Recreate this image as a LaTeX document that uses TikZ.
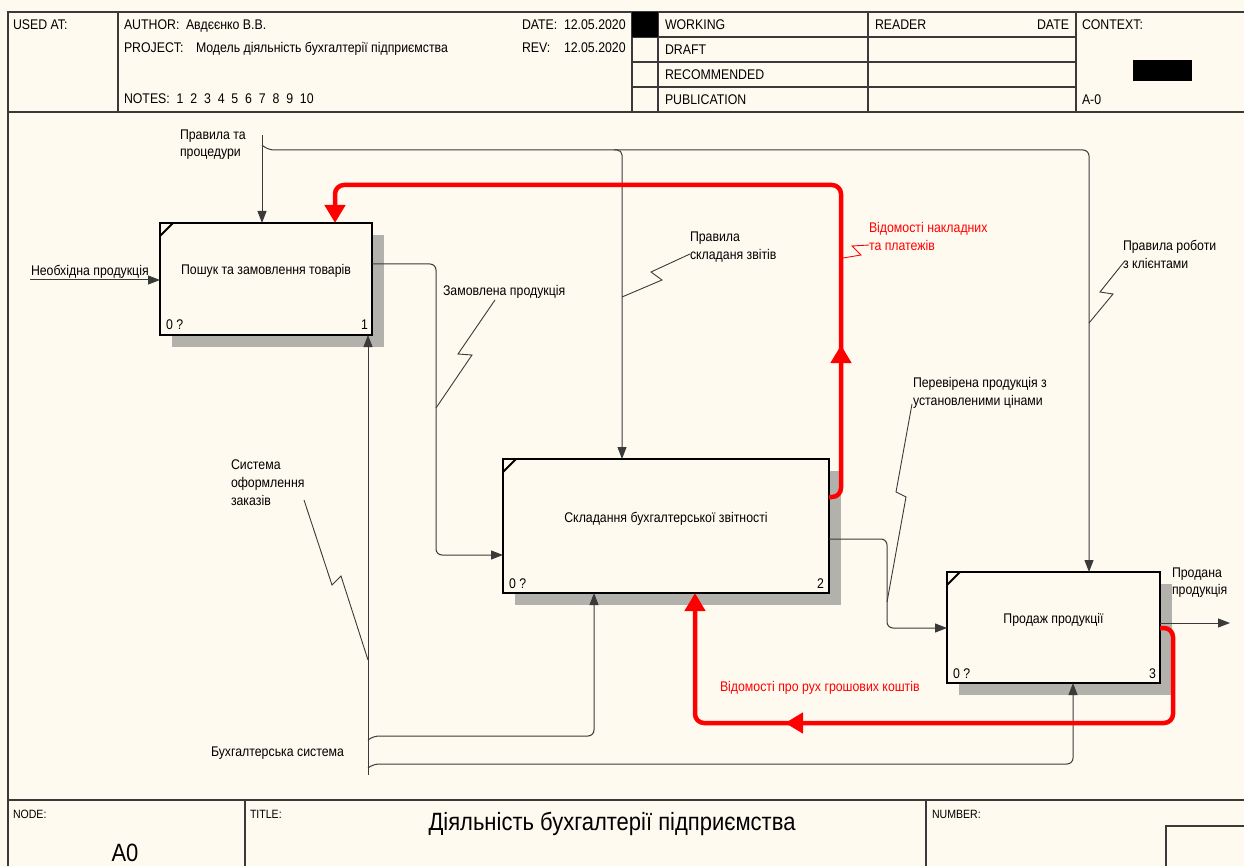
\documentclass[tikz,border=0pt]{standalone}
\usepackage{fontspec}
\setmainfont{Liberation Sans}[FakeStretch=0.88]
\usetikzlibrary{arrows.meta,calc}
\definecolor{bg}{HTML}{FFFAEF}
\definecolor{ln}{HTML}{3A3A3A}
\definecolor{shd}{HTML}{B2B1AC}
\definecolor{rd}{HTML}{FF0000}
\begin{document}
\begin{tikzpicture}[x=1pt,y=-1pt,
  t/.style={inner sep=0pt,outer sep=0pt,font=\fontsize{14}{17}\selectfont,anchor=base west},
  tr/.style={t,anchor=base east},
  tc/.style={t,anchor=base},
  sm/.style={t,font=\fontsize{12}{14}\selectfont},
  big/.style={tc,font=\fontsize{25}{29}\selectfont},
  redt/.style={t,text=rd},
  frame/.style={line width=1.4pt,draw=ln},
  box/.style={draw=black,line width=2.5pt,fill=bg,inner sep=0pt,outer sep=0pt,
    font=\fontsize{14}{17}\selectfont,text height=10pt,text depth=18pt,
    preaction={fill=shd,transform canvas={shift={(12pt,-12pt)}}}},
  corner/.style={draw=black,line width=2pt},
  conn/.style={draw=ln,line width=1pt},
  arr/.style={conn,-{Triangle[length=12pt,width=9pt]}},
  redline/.style={draw=rd,line width=4.5pt},
  redarr/.style={redline,-{Triangle[length=18pt,width=20pt]}},
  squig/.style={draw=ln,line width=0.9pt},
  redsquig/.style={draw=rd,line width=0.9pt}
]
\useasboundingbox (0,0) rectangle (1244,866);
\fill[bg] (0,0) rectangle (1244,866);
% ---- frame ----
\draw[frame] (8,870) -- (8,12) -- (1250,12);
\draw[frame] (8,112) -- (1250,112);
\draw[frame] (8,800) -- (1250,800);
\foreach \x in {118,632,658,868,1076} \draw[frame] (\x,12) -- (\x,112);
\foreach \y in {37,62,87} \draw[frame] (632,\y) -- (1076,\y);
\fill[black] (632,12) rectangle (658,37);
\fill[black] (1133,60) rectangle (1192,81);
\draw[frame] (245,800) -- (245,870);
\draw[frame] (926,800) -- (926,870);
\draw[frame] (1166,870) -- (1166,826) -- (1250,826);
% ---- header texts ----
\node[t] (usedat) at (13,30) {USED AT:};
\node[t] (author) at (124,30) {AUTHOR:};
\node[t] (authorv) at (186,30) {Авдєєнко В.В.};
\node[t] (project) at (124,53) {PROJECT:};
\node[t] (projectv) at (196,53) {Модель діяльність бухгалтерії підприємства};
\node[t] (notes) at (124,104) {NOTES:\ \ 1\ \ 2\ \ 3\ \ 4\ \ 5\ \ 6\ \ 7\ \ 8\ \ 9\ \ 10};
\node[t] (date) at (522,30) {DATE:};
\node[t] (datev) at (564,30) {12.05.2020};
\node[t] (rev) at (522,53) {REV:};
\node[t] (revv) at (564,53) {12.05.2020};
\node[t] (working) at (665,30) {WORKING};
\node[t] (draft) at (665,55) {DRAFT};
\node[t] (recom) at (665,80) {RECOMMENDED};
\node[t] (publ) at (665,105) {PUBLICATION};
\node[t] (reader) at (875,30) {READER};
\node[tr] (rdate) at (1069,30) {DATE};
\node[t] (context) at (1082,30) {CONTEXT:};
\node[t] (ctxa) at (1082,105) {A-0};
% ---- footer texts ----
\node[sm] (nodelbl) at (13,818) {NODE:};
\node[sm] (titlelbl) at (250,818) {TITLE:};
\node[sm] (numlbl) at (932,818) {NUMBER:};
\node[big] (nodeval) at (125,861) {A0};
\node[big] (titleval) at (612,830) {Діяльність бухгалтерії підприємства};
% ---- boxes ----
\node[box,minimum width=212pt,minimum height=112pt] (b1) at (266,279) {Пошук та замовлення товарів};
\node[box,minimum width=326pt,minimum height=134pt] (b2) at (666,526) {Складання бухгалтерської звітності};
\node[box,minimum width=213pt,minimum height=111pt] (b3) at (1053.5,627.5) {Продаж продукції};
\foreach \b in {b1,b2,b3}{
  \draw[corner] ($(\b.north west)+(0,13)$) -- ($(\b.north west)+(13,0)$);
}
\node[t] (b1q) at ($(b1.south west)+(6,-5)$) {0 ?};
\node[tr] (b1n) at ($(b1.south east)+(-4,-5)$) {1};
\node[t] (b2q) at ($(b2.south west)+(6,-5)$) {0 ?};
\node[tr] (b2n) at ($(b2.south east)+(-5,-5)$) {2};
\node[t] (b3q) at ($(b3.south west)+(6,-5)$) {0 ?};
\node[tr] (b3n) at ($(b3.south east)+(-4,-5)$) {3};
% ---- coordinates ----
\coordinate (inA) at (30,280);
\coordinate (ctlTop) at (262,135);
\coordinate (j1) at (262,145);
\coordinate (c2) at (622,150);
\coordinate (c3) at (1089,150);
\coordinate (z1) at (436,264);
\coordinate (z2) at (436,555);
\coordinate (p1) at (887,539);
\coordinate (p2) at (887,628);
\coordinate (o3) at (1230,623);
\coordinate (r1a) at (841,497);
\coordinate (r1c) at (841,185);
\coordinate (r1b) at (335,185);
\coordinate (r2a) at (1173,628);
\coordinate (r2b) at (1173,723);
\coordinate (r2c) at (695,723);
\coordinate (m0) at (368,775);
\coordinate (mj1) at (368,740);
\coordinate (m2) at (594,736);
\coordinate (mj2) at (368,768);
\coordinate (m3) at (1073,764);
% ---- black connectors ----
\draw[arr] (inA) -- (inA -| b1.west);
\draw[arr] (ctlTop) -- (ctlTop |- b1.north);
\draw[arr,rounded corners=6pt] (j1) -- ++(6,5) -| (c3 |- b3.north);
\draw[arr,rounded corners=5pt] ($(c2)+(-8,0)$) -| (c2 |- b2.north);
\draw[arr,rounded corners=6pt] (z1 -| b1.east) -- (z1) -- (z2) -- (z2 -| b2.west);
\draw[arr,rounded corners=6pt] (p1 -| b2.east) -- (p1) -- (p2) -- (p2 -| b3.west);
\draw[arr] (o3 -| b3.east) -- (o3);
\draw[arr] (m0) -- (m0 |- b1.south);
\draw[arr,rounded corners=6pt] (mj1) -- ++(5,-4) -| (m2 |- b2.south);
\draw[arr,rounded corners=6pt] (mj2) -- ++(5,-4) -| (m3 |- b3.south);
% ---- red connectors ----
\draw[redarr,rounded corners=9pt] (r1a -| b2.east) -- (r1a) -- (r1c) -- (r1b) -- (r1b |- b1.north);
\draw[redarr] (841,372) -- (841,345);
\draw[redarr,rounded corners=9pt] (r2a -| b3.east) -- (r2a) -- (r2b) -- (r2c) -- (r2c |- b2.south);
\draw[redarr] (815,723) -- (785,723);
% ---- labels ----
\node[t] (lpr1) at (180,140) {Правила та};
\node[t] (lpr2) at (180,157) {процедури};
\node[t] (lneo) at (31,276) {Необхідна продукція};
\node[t] (lzam) at (443,296) {Замовлена продукція};
\draw[squig] (436,408) -- (472,355) -- (458,354) -- (495,300);
\node[t] (lsk1) at (690,242) {Правила};
\node[t] (lsk2) at (690,260) {складаня звітів};
\draw[squig] (622,297) -- (662,280) -- (651,272) -- (690,254);
\node[redt] (lvn1) at (869,233) {Відомості накладних};
\node[redt] (lvn2) at (869,251) {та платежів};
\draw[redsquig] (843,258) -- (861,255) -- (852,246) -- (869,245);
\node[t] (lrk1) at (1123,251) {Правила роботи};
\node[t] (lrk2) at (1123,269) {з клієнтами};
\draw[squig] (1089,323) -- (1113,294) -- (1100,292) -- (1124,262);
\node[t] (lpp1) at (913,387) {Перевірена продукція з};
\node[t] (lpp2) at (913,405) {установленими цінами};
\draw[squig] (912,404) -- (896,492) -- (906,497) -- (887,602);
\node[t] (lso1) at (231,469) {Система};
\node[t] (lso2) at (231,487) {оформлення};
\node[t] (lso3) at (231,505) {заказів};
\draw[squig] (304,500) -- (332,585) -- (341,576) -- (368,660);
\node[t] (lpd1) at (1172,577) {Продана};
\node[t] (lpd2) at (1172,594) {продукція};
\node[redt] (lrux) at (720,691) {Відомості про рух грошових коштів};
\node[t] (lbs) at (211,756) {Бухгалтерська система};
\end{tikzpicture}
\end{document}
